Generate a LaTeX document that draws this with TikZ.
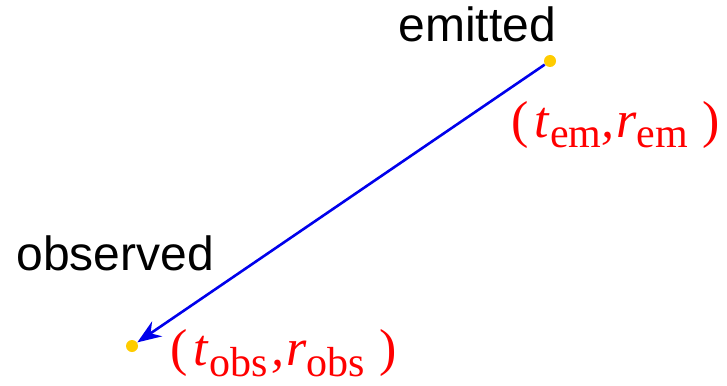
\documentclass[tikz,border=0pt]{standalone}
\usepackage{fontspec}
\setmainfont{Liberation Serif}
\newfontfamily\eventfont{Liberation Sans}
\usepackage{xcolor}
\usetikzlibrary{arrows.meta,positioning}
\definecolor{dotyellow}{RGB}{255,204,0}
\definecolor{rayblue}{RGB}{0,0,235}
\definecolor{coordred}{RGB}{255,0,0}
\newcommand{\evsub}[1]{\raisebox{-5.5pt}{\fontsize{21}{23}\selectfont #1}}

\begin{document}
\begin{tikzpicture}[x=0.5pt,y=-0.5pt]
\tikzset{
    event/.style={circle, fill=dotyellow, inner sep=0pt, minimum size=6pt},
    eventname/.style={anchor=base west, inner sep=0pt, font=\eventfont\fontsize{24}{28}\selectfont},
    coordlabel/.style={anchor=base west, inner sep=0pt, text=coordred, font=\fontsize{26}{30}\selectfont},
    ray/.style={rayblue, line width=1.3pt, -{Stealth[length=12pt,width=9pt,inset=4pt]}}
}
\useasboundingbox (0,0) rectangle (727,385);
% events
\node[event] (em) at (550,61) {};
\node[event] (obs) at (132,346) {};
% names
\node[eventname] (emname) at (398,42) {emitted};
\node[eventname] (obsname) at (16,270) {observed};
% coordinates
\node[coordlabel] (emlab) at (511,137) {(\kern3pt\textit{t}\evsub{em}\textit{,}\kern1pt\textit{r}\evsub{em}\kern7pt)};
\node[coordlabel] (obslab) at (170,365) {(\kern3pt\textit{t}\evsub{obs}\kern2pt\textit{,}\kern1pt\textit{r}\evsub{obs}\kern7pt)};
% light ray
\draw[ray] (em) -- (obs);
\end{tikzpicture}
\end{document}
